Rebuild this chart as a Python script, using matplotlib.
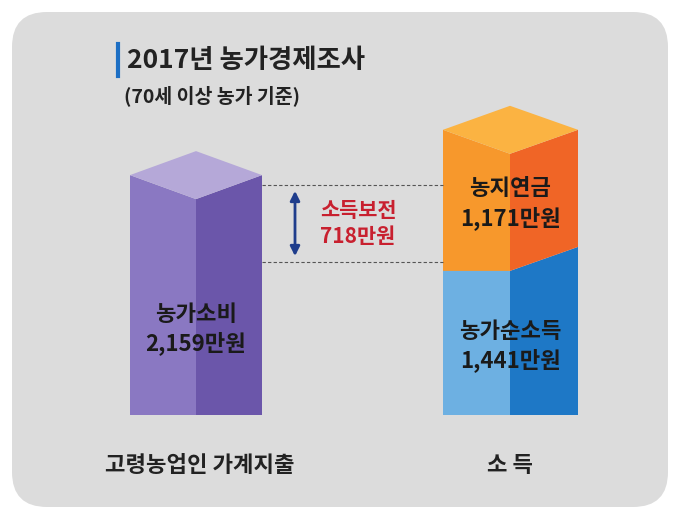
import matplotlib.pyplot as plt
from matplotlib.patches import Polygon, FancyBboxPatch

plt.rcParams['font.family'] = ['Noto Sans CJK KR', 'DejaVu Sans']

consumption = 2159
pension = 1171
net_income = 1441
gap = 718
scale = 0.1
base = 415
depth = 24

fig = plt.figure(figsize=(6.8, 5.19), dpi=100)
ax = fig.add_axes([0, 0, 1, 1])
ax.set_xlim(0, 680)
ax.set_ylim(519, 0)
ax.axis('off')

ax.add_patch(FancyBboxPatch((12, 12), 656, 495, boxstyle="round,pad=0,rounding_size=35",
                            fc='#dcdcdc', ec='none'))


def block(x0, x1, x2, y_bot, y_top, front, side, top=None, flat=False):
    lb = y_bot if flat else y_bot - depth
    ax.add_patch(Polygon([(x0, y_bot), (x1, y_bot), (x1, y_top), (x0, y_top - depth)], fc=front, ec='none'))
    ax.add_patch(Polygon([(x1, y_bot), (x2, y_bot if flat else y_bot - depth), (x2, y_top - depth), (x1, y_top)],
                         fc=side, ec='none'))
    if top:
        ax.add_patch(Polygon([(x0, y_top - depth), (x1, y_top), (x2, y_top - depth), (x1, y_top - 2 * depth)],
                             fc=top, ec='none'))


# left bar
lt = base - consumption * scale
block(130, 196, 262, base, lt, '#8a78c2', '#6b56aa', '#b5a8d8', flat=True)
# right bar
mid = base - net_income * scale
rt = mid - pension * scale
block(443, 510, 578, base, mid, '#6db0e2', '#1e78c6', flat=True)
block(443, 510, 578, mid, rt, '#f7982c', '#f06526', '#fbb342')

ax.text(196, lt + 130, f'농가소비\n{consumption:,}만원', ha='center', va='center', fontsize=16,
        fontweight='bold', color='#1a1a1a', linespacing=1.3)
ax.text(510, rt + 50, f'농지연금\n{pension:,}만원', ha='center', va='center', fontsize=16,
        fontweight='bold', color='#1a1a1a', linespacing=1.3)
ax.text(510, mid + 75, f'농가순소득\n{net_income:,}만원', ha='center', va='center', fontsize=16,
        fontweight='bold', color='#1a1a1a', linespacing=1.3)

# dashed guide lines
y_hi = lt - 14
y_lo = mid - 9
ax.plot([262, 443], [y_hi, y_hi], ls=(0, (3, 2)), color='#555555', lw=0.8)
ax.plot([262, 443], [y_lo, y_lo], ls=(0, (3, 2)), color='#555555', lw=0.8)
ax.annotate('', xy=(295, y_hi + 3), xytext=(295, y_lo - 3),
            arrowprops=dict(arrowstyle='<|-|>', color='#1f3d8c', lw=2, mutation_scale=14))
ax.text(358, (y_hi + y_lo) / 2, f'소득보전\n{gap}만원', ha='center', va='center', fontsize=15,
        fontweight='bold', color='#c8202f', linespacing=1.3)

# title
ax.plot([118, 118], [44, 76], color='#1d6fc4', lw=3)
ax.text(127, 60, '2017년 농가경제조사', fontsize=19, fontweight='bold', va='center', color='#222222')
ax.text(124, 96, '(70세 이상 농가 기준)', fontsize=14, fontweight='bold', va='center', color='#222222')

ax.text(200, 466, '고령농업인 가계지출', ha='center', va='center', fontsize=16, fontweight='bold', color='#222222')
ax.text(510, 466, '소 득', ha='center', va='center', fontsize=16, fontweight='bold', color='#222222')

fig.savefig('out.png', dpi=100, facecolor='white')
